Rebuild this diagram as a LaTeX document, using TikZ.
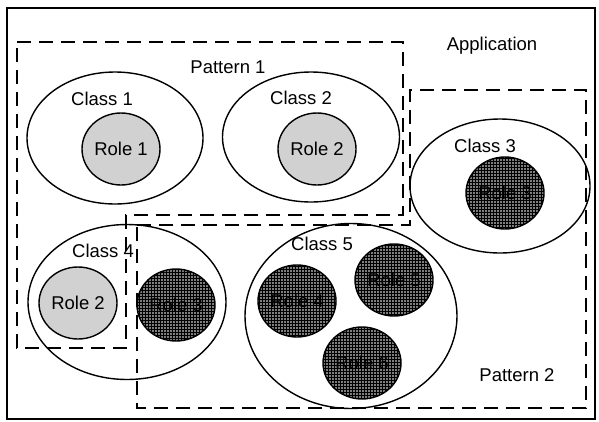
\documentclass[tikz,border=0pt]{standalone}
\usepackage{fontspec}
\setmainfont{Liberation Sans}
\usetikzlibrary{shapes.geometric,patterns.meta}
\tikzdeclarepattern{name=wdots, type=uncolored,
  bottom left={(-1.5pt,-1.5pt)}, top right={(1.5pt,1.5pt)},
  tile size={(3pt,3pt)},
  code={\fill (0pt,0pt) circle (0.8pt);}}
\tikzset{
  frame/.style={draw, line width=1.8pt},
  classnode/.style={draw, ellipse, line width=1.4pt, inner sep=0pt},
  lightrole/.style={draw, ellipse, line width=1.4pt, inner sep=0pt,
    fill=black!18, minimum width=78pt, minimum height=72pt},
  darkrole/.style={draw, ellipse, line width=1.4pt, inner sep=0pt,
    preaction={fill=black}, pattern={wdots}, pattern color=white,
    minimum width=78pt, minimum height=72pt},
  patternline/.style={draw, line width=2.6pt, dash pattern=on 14pt off 8pt},
  lbl/.style={inner sep=0pt, font=\fontsize{18.5}{21}\selectfont}
}
\begin{document}
\begin{tikzpicture}[x=1pt,y=-1pt]
\useasboundingbox (0,0) rectangle (599,421);
\fill[white] (0,0) rectangle (599,421);
\draw[frame] (7,8) rectangle (595,419);

% classes
\node[classnode, minimum width=176pt, minimum height=132pt] (c1) at (115,138) {};
\node[classnode, minimum width=177pt, minimum height=130pt] (c2) at (311,137) {};
\node[classnode, minimum width=180pt, minimum height=134pt] (c3) at (500,186) {};
\node[classnode, minimum width=198pt, minimum height=155pt] (c4) at (127,302) {};
\node[classnode, minimum width=212pt, minimum height=185pt] (c5) at (351,316) {};

% roles
\node[lightrole, lbl] (r1) at (121,149) {Role 1};
\node[lightrole, lbl] (r2) at (317,149) {Role 2};
\node[darkrole, lbl] (r3a) at (505,193) {Role 3};
\node[lightrole, lbl] (r2b) at (78,303) {Role 2};
\node[darkrole, lbl] (r3b) at (176,305) {Role 3};
\node[darkrole, lbl] (r4) at (297,301) {Role 4};
\node[darkrole, lbl] (r5) at (394,280) {Role 5};
\node[darkrole, lbl] (r6) at (362,363) {Role 6};

% class labels
\node[lbl] (l1) at (102,99) {Class 1};
\node[lbl] (l2) at (301,98) {Class 2};
\node[lbl] (l3) at (485,146) {Class 3};
\node[lbl] (l4) at (103,251) {Class 4};
\node[lbl] (l5) at (322,244) {Class 5};

% pattern regions
\draw[patternline] (17,42) -- (403,42) -- (403,215) -- (126,215) -- (126,348) -- (17,348) -- cycle;
\draw[patternline] (137,225) -- (410,225) -- (410,90) -- (586,90) -- (586,408) -- (137,408) -- cycle;

% other labels
\node[lbl] (app) at (492,46) {Application};
\node[lbl] (p1) at (228,67) {Pattern 1};
\node[lbl] (p2) at (517,375) {Pattern 2};
\end{tikzpicture}
\end{document}
